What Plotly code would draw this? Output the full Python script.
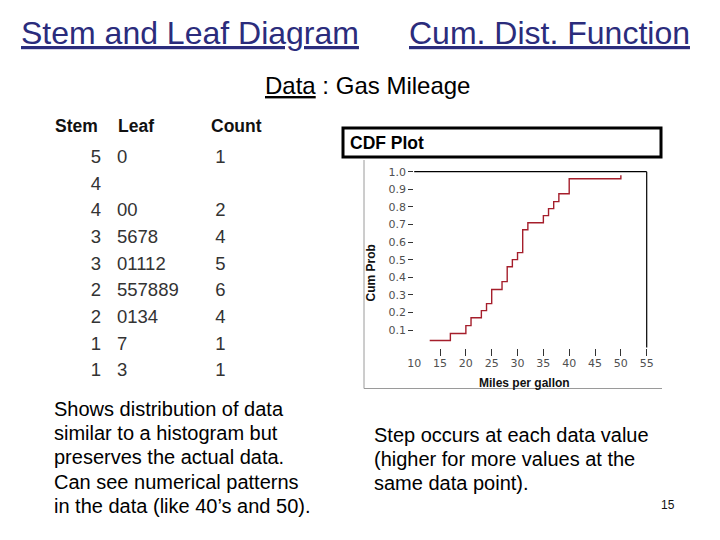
import plotly.graph_objects as go

# ---- Data ----
stems = ["5", "4", "4", "3", "3", "2", "2", "1", "1"]
leaves = ["0", "", "00", "5678", "01112", "557889", "0134", "7", "3"]
counts = ["1", "", "2", "4", "5", "6", "4", "1", "1"]

cdf_mpg = [13, 17, 20, 21, 23, 24, 25, 27, 28, 29, 30, 31, 32, 35, 36, 37, 38, 40, 50]
cdf_prob = [0.04, 0.08, 0.125, 0.17, 0.21, 0.25, 0.33, 0.375, 0.46, 0.50, 0.54,
            0.67, 0.71, 0.75, 0.79, 0.83, 0.875, 0.96, 0.98]

x_ticks = [10, 15, 20, 25, 30, 35, 40, 45, 50, 55]
x_tick_marks = [15, 20, 25, 30, 35, 40, 45, 50, 55]
y_ticks = [0.1, 0.2, 0.3, 0.4, 0.5, 0.6, 0.7, 0.8, 0.9, 1.0]

left_text = ["Shows distribution of data",
             "similar to a histogram but",
             "preserves the actual data.",
             "Can see numerical patterns",
             "in the data (like 40\u2019s and 50)."]
right_text = ["Step occurs at each data value",
              "(higher for more values at the",
              "same data point)."]

W, H = 720, 540
OFF = 8  # page offset of the figure (default body margin)
def px(x):
    return (x - OFF) / W
def py(y):
    return 1 - (y - OFF) / H

FONT = "Liberation Sans, Arial, sans-serif"
NAVY = "#2b2c7c"
GRAY = "#333333"

fig = go.Figure()

# CDF step line
fig.add_trace(go.Scatter(
    x=cdf_mpg, y=cdf_prob, mode="lines", line=dict(shape="hv", color="#a51e2b", width=1.4),
    xaxis="x", yaxis="y", showlegend=False, hoverinfo="x+y"))

# Stem-and-leaf table (row index mapped by yaxis2)
rows = list(range(len(stems)))
fig.add_trace(go.Scatter(
    x=[101] * len(rows), y=rows, text=stems, mode="text", textposition="middle left",
    textfont=dict(family=FONT, size=18.5, color=GRAY), xaxis="x2", yaxis="y2",
    showlegend=False, hoverinfo="skip"))
fig.add_trace(go.Scatter(
    x=[117] * len(rows), y=rows, text=leaves, mode="text", textposition="middle right",
    textfont=dict(family=FONT, size=18.5, color=GRAY), xaxis="x2", yaxis="y2",
    showlegend=False, hoverinfo="skip"))
fig.add_trace(go.Scatter(
    x=[220.5] * len(rows), y=rows, text=counts, mode="text", textposition="middle center",
    textfont=dict(family=FONT, size=18.5, color=GRAY), xaxis="x2", yaxis="y2",
    showlegend=False, hoverinfo="skip"))

annotations = [
    dict(text="<u>Stem and Leaf Diagram</u>", x=px(19), y=py(33), xanchor="left", yanchor="middle",
         font=dict(family=FONT, size=32, color=NAVY)),
    dict(text="<u>Cum. Dist. Function</u>", x=px(549), y=py(33), xanchor="center", yanchor="middle",
         font=dict(family=FONT, size=32, color=NAVY)),
    dict(text="<u>Data</u> : Gas Mileage", x=px(367), y=py(85), xanchor="center", yanchor="middle",
         font=dict(family=FONT, size=24, color="#000000")),
    dict(text="<b>Stem</b>", x=px(76.5), y=py(126), xanchor="center", yanchor="middle",
         font=dict(family=FONT, size=17.5, color="#111111")),
    dict(text="<b>Leaf</b>", x=px(116), y=py(126), xanchor="left", yanchor="middle",
         font=dict(family=FONT, size=17.5, color="#111111")),
    dict(text="<b>Count</b>", x=px(236), y=py(126), xanchor="center", yanchor="middle",
         font=dict(family=FONT, size=17.5, color="#111111")),
    dict(text="<b>CDF Plot</b>", x=px(348), y=py(142.5), xanchor="left", yanchor="middle",
         font=dict(family=FONT, size=17.5, color="#000000")),
    dict(text="<b>Cum Prob</b>", x=px(370.5), y=py(273), xanchor="center", yanchor="middle",
         textangle=-90, font=dict(family=FONT, size=12, color="#111111")),
    dict(text="<b>Miles per gallon</b>", x=px(524), y=py(383), xanchor="center", yanchor="middle",
         font=dict(family=FONT, size=12, color="#111111")),
    dict(text="15", x=px(668), y=py(505), xanchor="center", yanchor="middle",
         font=dict(family=FONT, size=12, color="#111111")),
]
for i, line in enumerate(left_text):
    annotations.append(dict(text=line, x=px(52), y=py(409 + 24.2 * i), xanchor="left", yanchor="middle",
                            font=dict(family=FONT, size=20, color="#000000")))
for i, line in enumerate(right_text):
    annotations.append(dict(text=line, x=px(372), y=py(435 + 24.2 * i), xanchor="left", yanchor="middle",
                            font=dict(family=FONT, size=20, color="#000000")))
for a in annotations:
    a.update(xref="paper", yref="paper", showarrow=False)

shapes = [
    # CDF Plot header box
    dict(type="rect", xref="paper", yref="paper", x0=px(343), x1=px(661), y0=py(157), y1=py(128),
         line=dict(color="#000000", width=3)),
    # gray frame (left and bottom)
    dict(type="line", xref="paper", yref="paper", x0=px(364), x1=px(364), y0=py(160), y1=py(388.5),
         line=dict(color="#9a9a9a", width=1)),
    dict(type="line", xref="paper", yref="paper", x0=px(364), x1=px(662), y0=py(388.5), y1=py(388.5),
         line=dict(color="#9a9a9a", width=1)),
    # plot frame: top and right
    dict(type="line", xref="x domain", yref="y domain", x0=0, x1=1, y0=1, y1=1,
         line=dict(color="#000000", width=1.2)),
    dict(type="line", xref="x domain", yref="y domain", x0=1, x1=1, y0=0, y1=1,
         line=dict(color="#000000", width=1.2)),
]

tickfont = dict(family="DejaVu Sans, sans-serif", size=11, color="#505050")
fig.update_layout(
    width=W, height=H, autosize=False,
    margin=dict(l=0, r=0, t=0, b=0, pad=0, autoexpand=False),
    paper_bgcolor="white", plot_bgcolor="rgba(0,0,0,0)", showlegend=False,
    xaxis=dict(domain=[px(414.2), px(646.7)], range=[10, 55], tickvals=x_ticks,
               ticks="", ticklabelstandoff=7,
               minor=dict(tickvals=x_tick_marks, ticks="outside", ticklen=7,
                          tickcolor="#333333", tickwidth=1, showgrid=False),
               showgrid=False, zeroline=False, showline=False, tickfont=tickfont),
    yaxis=dict(domain=[py(347.6), py(171.7)], range=[0, 1.0], tickvals=y_ticks, tickformat=".1f",
               ticks="outside", ticklen=5, tickcolor="#333333", tickwidth=1,
               showgrid=False, zeroline=False, showline=False, tickfont=tickfont),
    xaxis2=dict(domain=[0, 1], range=[OFF, W + OFF], visible=False, anchor="y2"),
    yaxis2=dict(domain=[py(385), py(145)], range=[len(stems) - 0.5, -0.5], visible=False, anchor="x2"),
    annotations=annotations, shapes=shapes,
)

fig.write_html("out.html")
